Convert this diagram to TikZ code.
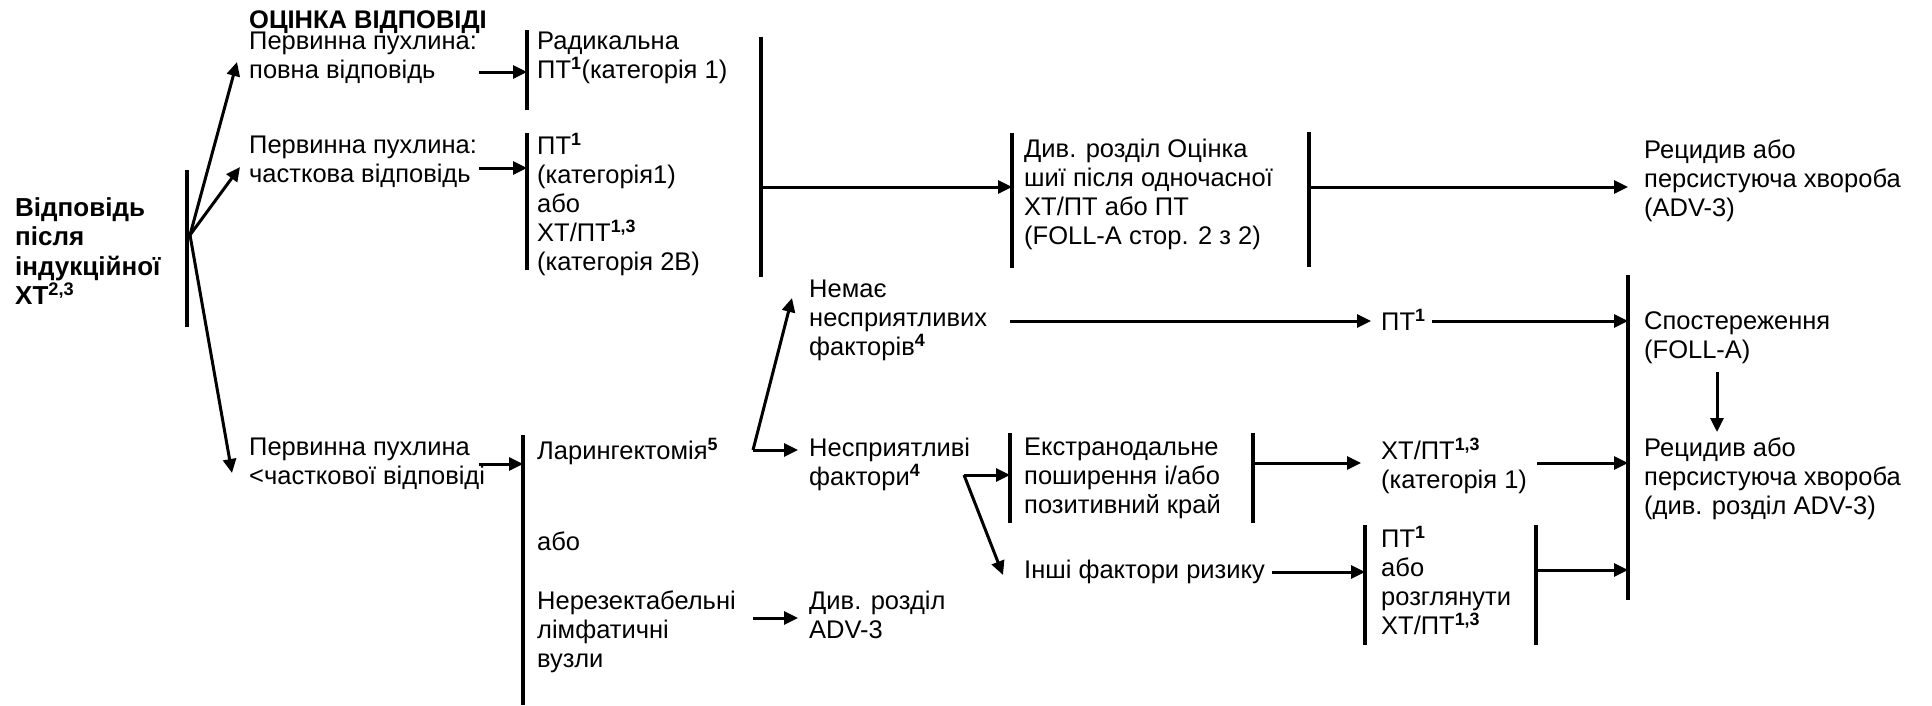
\documentclass[tikz,border=0pt]{standalone}
\usepackage{fontspec}
\setmainfont{Liberation Sans}
\usetikzlibrary{arrows.meta}
% bold superscript used for the footnote marks
\newcommand\supb[1]{\textsuperscript{\textbf{#1}}}
\begin{document}
\begin{tikzpicture}[x=1pt,y=-1pt,
  txt/.style={font=\fontsize{25.5}{29}\selectfont, align=left, inner sep=0pt,
              anchor=north west, execute at begin node=\strut},
  btxt/.style={txt, font=\fontsize{26}{29.5}\selectfont\bfseries},
  ttxt/.style={font=\fontsize{25.5}{29}\selectfont\bfseries, inner sep=0pt,
               anchor=base west},
  bar/.style={line width=3.5pt},
  arr/.style={line width=3pt, -{Triangle[length=14pt,width=13pt]}}]
\useasboundingbox (0,0) rectangle (1932,705);

% ---------- text blocks ----------
\node[btxt] (resp)  at (15,197)   {Відповідь\\після\\індукційної\\ХТ\textsuperscript{2,3}};
\node[ttxt] (title) at (249,28)   {ОЦІНКА ВІДПОВІДІ};
\node[txt]  (pa)    at (249,32)   {Первинна пухлина:\\повна відповідь};
\node[txt]  (rad)   at (537,32)   {Радикальна\\ПТ\supb{1}(категорія 1)};
\node[txt]  (pb)    at (249,136)  {Первинна пухлина:\\часткова відповідь};
\node[txt]  (rtb)   at (537,133)  {ПТ\supb{1}\\(категорія1)\\або\\ХТ/ПТ\supb{1,3}\\(категорія 2В)};
\node[txt]  (see)   at (1024,139) {Див. розділ Оцінка\\шиї після одночасної\\ХТ/ПТ або ПТ\\(FOLL-A стор. 2 з 2)};
\node[txt]  (rec1)  at (1644,140) {Рецидив або\\персистуюча хвороба\\(ADV-3)};
\node[txt]  (noadv) at (809,280)  {Немає\\несприятливих\\факторів\supb{4}};
\node[txt]  (pt)    at (1381,309) {ПТ\supb{1}};
\node[txt]  (obs)   at (1644,311) {Спостереження\\(FOLL-A)};
\node[txt]  (rec2)  at (1644,438) {Рецидив або\\персистуюча хвороба\\(див. розділ ADV-3)};
\node[txt]  (pc)    at (249,438)  {Первинна пухлина\\<часткової відповіді};
\node[txt]  (lar)   at (537,438)  {Ларингектомія\supb{5}};
\node[txt]  (or)    at (537,530)  {або};
\node[txt]  (unres) at (537,591)  {Нерезектабельні\\лімфатичні\\вузли};
\node[txt]  (adv)   at (809,591)  {Див. розділ\\ADV-3};
\node[txt]  (adf)   at (809,438)  {Несприятливі\\фактори\supb{4}};
\node[txt]  (extra) at (1024,438) {Екстранодальне\\поширення і/або\\позитивний край};
\node[txt]  (ctrt)  at (1381,438) {ХТ/ПТ\supb{1,3}\\(категорія 1)};
\node[txt]  (other) at (1024,558) {Інші фактори ризику};
\node[txt]  (ptor)  at (1381,526) {ПТ\supb{1}\\або\\розглянути\\ХТ/ПТ\supb{1,3}};

% ---------- bracket bars ----------
\coordinate (l0t) at (187,170);  \coordinate (l0b) at (187,327);
\coordinate (bat) at (527,30);   \coordinate (bab) at (527,110);
\coordinate (bbt) at (527,133);  \coordinate (bbb) at (527,270);
\coordinate (bct) at (523,435);  \coordinate (bcb) at (523,705);
\coordinate (bjt) at (761,37);   \coordinate (bjb) at (761,277);
\coordinate (bst) at (1012,133); \coordinate (bsb) at (1012,268);
\coordinate (btt) at (1309,132); \coordinate (btb) at (1309,267);
\coordinate (bot) at (1628,275); \coordinate (bob) at (1628,600);
\coordinate (bet) at (1010,433); \coordinate (beb) at (1010,523);
\coordinate (bft) at (1253,433); \coordinate (bfb) at (1253,523);
\coordinate (bgt) at (1365,525); \coordinate (bgb) at (1365,645);
\coordinate (bht) at (1536,525); \coordinate (bhb) at (1536,645);
\foreach \a/\b in {l0t/l0b,bat/bab,bbt/bbb,bct/bcb,bjt/bjb,bst/bsb,btt/btb,
                   bot/bob,bet/beb,bft/bfb,bgt/bgb,bht/bhb}
  \draw[bar] (\a) -- (\b);

% ---------- branching points and free ends ----------
\coordinate (o)  at (190,235);
\coordinate (t1) at (237,62);
\coordinate (t2) at (240,167);
\coordinate (t3) at (232,473);
\coordinate (f2) at (753,450);
\coordinate (f2u) at (792,298);
\coordinate (f2r) at (798,450);
\coordinate (f3) at (964,475);
\coordinate (f3d) at (1003,575);
\coordinate (aS) at (479,72);
\coordinate (bS) at (479,168);
\coordinate (cS) at (479,464);
\coordinate (jY) at (0,187);
\coordinate (nS) at (1010,321);
\coordinate (nE) at (1371,321);
\coordinate (pS) at (1432,321);
\coordinate (xY) at (0,463);
\coordinate (xE) at (1361,463);
\coordinate (cE) at (1537,463);
\coordinate (oS) at (1272,572);
\coordinate (hY) at (0,570);
\coordinate (dT) at (1717,372);
\coordinate (dB) at (1717,432);
\coordinate (uS) at (753,618);
\coordinate (uE) at (798,618);

% ---------- connectors ----------
\draw[arr] (o) -- (t1);
\draw[arr] (o) -- (t2);
\draw[arr] (o) -- (t3);
\draw[arr] (aS) -- (aS -| bat);
\draw[arr] (bS) -- (bS -| bbt);
\draw[arr] (cS) -- (cS -| bct);
\draw[arr] (jY -| bjt) -- (jY -| bst);
\draw[arr] (jY -| btt) -- (jY -| bot);
\draw[arr] (nS) -- (nE);
\draw[arr] (pS) -- (pS -| bot);
\draw[arr] (f2) -- (f2u);
\draw[arr] (f2) -- (f2r);
\draw[arr] (f3) -- (f3 -| bet);
\draw[arr] (f3) -- (f3d);
\draw[arr] (xY -| bft) -- (xE);
\draw[arr] (cE) -- (cE -| bot);
\draw[arr] (oS) -- (oS -| bgt);
\draw[arr] (hY -| bht) -- (hY -| bot);
\draw[arr] (dT) -- (dB);
\draw[arr] (uS) -- (uE);
\end{tikzpicture}
\end{document}
